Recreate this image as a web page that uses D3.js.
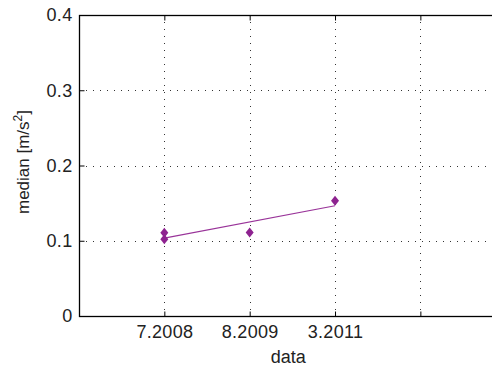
<!DOCTYPE html>
<html><head><meta charset="utf-8">
<script src="https://cdn.jsdelivr.net/npm/d3@7"></script>
<style>body{margin:0;background:#fff}svg{display:block}text{font-family:"Liberation Sans",Arial,sans-serif}</style>
</head><body><svg id="c" width="492" height="367"></svg>
<script>
const xTicks = [1, 2, 3, 4];
const xTickLabels = ["7.2008", "8.2009", "3.2011", ""];
const yTicks = [0, 0.1, 0.2, 0.3, 0.4];
const yTickLabels = ["0", "0.1", "0.2", "0.3", "0.4"];
const pointX = [1, 1, 2, 3];
const pointY = [0.102, 0.1105, 0.111, 0.153];
const fitX = [1, 3];
const fitY = [0.1035, 0.1465];

const svg = d3.select("#c");
const L = 79, R = 505.7, T = 15, B = 316;
const x = d3.scaleLinear().domain([0, 5]).range([L, R]);
const y = d3.scaleLinear().domain([0, 0.4]).range([B, T]);
const fs = 18;
const ls = "0.3px";

// grid
const g = svg.append("g");
g.selectAll(".vg").data(xTicks).join("line")
  .attr("x1", d => Math.round(x(d)) + 0.5).attr("x2", d => Math.round(x(d)) + 0.5)
  .attr("y1", T).attr("y2", B)
  .attr("stroke", "#333").attr("stroke-width", 1).attr("stroke-dasharray", "1,6");
g.selectAll(".hg").data(yTicks.filter(d => d > 0 && d < 0.4)).join("line")
  .attr("y1", d => Math.round(y(d)) + 0.5).attr("y2", d => Math.round(y(d)) + 0.5)
  .attr("x1", L).attr("x2", R)
  .attr("stroke", "#333").attr("stroke-width", 1).attr("stroke-dasharray", "1,6");

// axes box
svg.append("rect").attr("x", L + 0.5).attr("y", T + 0.5).attr("width", R - L).attr("height", B - T)
  .attr("fill", "none").attr("stroke", "#000").attr("stroke-width", 1.3);

// inward ticks
const xAxisB = d3.axisBottom(x).tickValues(xTicks).tickSize(-5).tickFormat((d, i) => xTickLabels[i]).tickPadding(9);
const ax = svg.append("g").attr("transform", `translate(0,${B + 0.5})`).call(xAxisB);
ax.select(".domain").remove();
ax.selectAll("text").attr("font-size", fs).attr("fill", "#222").attr("letter-spacing", ls).attr("font-family", '"Liberation Sans",Arial,sans-serif');
ax.selectAll(".tick line").attr("stroke", "#000");
const axT = svg.append("g").attr("transform", `translate(0,${T + 0.5})`).call(d3.axisTop(x).tickValues(xTicks).tickSize(-5).tickFormat(""));
axT.select(".domain").remove();

const yAxis = d3.axisLeft(y).tickValues(yTicks).tickSize(-5).tickFormat((d, i) => yTickLabels[i]).tickPadding(7);
const ay = svg.append("g").attr("transform", `translate(${L + 0.5},0)`).call(yAxis);
ay.select(".domain").remove();
ay.selectAll("text").attr("font-size", fs).attr("fill", "#222").attr("letter-spacing", ls).attr("font-family", '"Liberation Sans",Arial,sans-serif');

// fit line
svg.append("path").datum(fitX.map((d, i) => [d, fitY[i]]))
  .attr("d", d3.line().x(d => x(d[0])).y(d => y(d[1])))
  .attr("fill", "none").attr("stroke", "#993399").attr("stroke-width", 1.2);

// markers
svg.selectAll(".pt").data(pointX.map((d, i) => [d, pointY[i]])).join("path")
  .attr("transform", d => `translate(${x(d[0])},${y(d[1])})`)
  .attr("d", "M0,-5 L4,0 L0,5 L-4,0 Z")
  .attr("fill", "#8e2290");

// labels
svg.append("text").attr("x", (L + R) / 2 - 4).attr("y", 363).attr("text-anchor", "middle")
  .attr("font-size", fs).attr("fill", "#222").text("data");
const yl = svg.append("text").attr("transform", "translate(29,162) rotate(-90)").attr("text-anchor", "middle")
  .attr("font-size", fs - 1).attr("fill", "#222");
yl.append("tspan").text("median [m/s");
yl.append("tspan").attr("font-size", 12).attr("dy", -7).text("2");
yl.append("tspan").attr("dy", 7).text("]");
</script></body></html>
